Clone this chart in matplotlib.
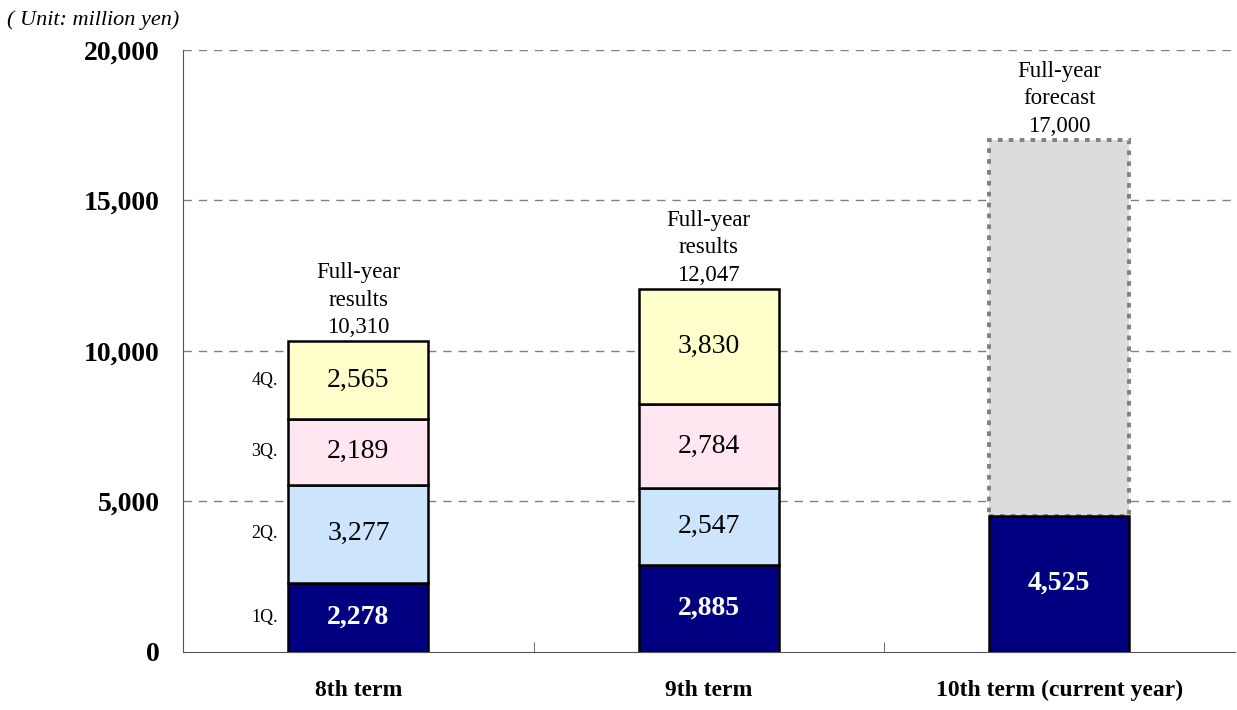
"""
Quarterly sales by term: stacked bars with full-year totals and 10th-term forecast.
"""
import matplotlib
matplotlib.use("Agg")
import matplotlib.pyplot as plt
import numpy as np

terms = ["8th term", "9th term", "10th term (current year)"]
quarters = ["1Q.", "2Q.", "3Q.", "4Q."]
# quarterly values (million yen); None where not yet reported
q1 = [2278, 2885, 4525]
q2 = [3277, 2547, None]
q3 = [2189, 2784, None]
q4 = [2565, 3830, None]
totals = [10310, 12047, 17000]
total_labels = ["Full-year\nresults", "Full-year\nresults", "Full-year\nforecast"]
yticks = [0, 5000, 10000, 15000, 20000]

colors = ["#000080", "#cce4fc", "#ffe6f0", "#ffffcc"]
text_colors = ["white", "black", "black", "black"]
forecast_color = "#dcdcdc"

plt.rcParams["font.family"] = ["Liberation Serif", "DejaVu Serif"]

fig = plt.figure(figsize=(12.37, 7.10), dpi=100)
ax = fig.add_axes([0.148, 0.082, 0.85, 0.848])

x = np.arange(len(terms))
width = 0.4
series = [q1, q2, q3, q4]

bottoms = np.zeros(len(terms))
for qi, vals in enumerate(series):
    for ti, v in enumerate(vals):
        if v is None:
            continue
        ax.bar(x[ti], v, width, bottom=bottoms[ti], color=colors[qi],
               edgecolor="black", linewidth=1.8, zorder=3)
        ax.text(x[ti], bottoms[ti] + v / 2, f"{v:,}", ha="center", va="center",
                fontsize=20, color=text_colors[qi],
                fontweight="bold" if qi == 0 else "normal", zorder=4)
        bottoms[ti] += v

# forecast remainder for the current term
cur = len(terms) - 1
ax.bar(x[cur], totals[cur] - bottoms[cur], width, bottom=bottoms[cur],
       color=forecast_color, edgecolor="#808080", linewidth=2.8,
       linestyle=(0, (1.2, 1.6)), zorder=2)

# quarter labels beside the first bar
b = 0
for qi, vals in enumerate(series):
    v = vals[0]
    ax.text(x[0] - width / 2 - 0.03, b + v / 2, quarters[qi], ha="right",
            va="center", fontsize=13)
    b += v

for ti in range(len(terms)):
    ax.annotate(f"{total_labels[ti]}\n{totals[ti]:,}", (x[ti], totals[ti]),
                xytext=(0, 2.5), textcoords="offset points", ha="center",
                va="bottom", fontsize=16.5, linespacing=1.4)

ax.set_xlim(-0.5, len(terms) - 0.5)
ax.set_ylim(0, 20000)
ax.set_yticks(yticks)
ax.set_yticklabels([f"{t:,}" for t in yticks], fontsize=20, fontweight="bold")
ax.tick_params(axis="y", length=0, pad=17)
ax.set_xticks(x)
ax.set_xticklabels(terms, fontsize=17, fontweight="bold")
ax.tick_params(axis="x", which="major", length=0, pad=20)
ax.set_xticks([0.5, 1.5], minor=True)
ax.tick_params(axis="x", which="minor", direction="in", length=7, color="#555555")

for yv in yticks[1:]:
    ax.axhline(yv, color="#808080", linestyle=(0, (6, 5)), linewidth=1, zorder=1)

ax.spines["top"].set_visible(False)
ax.spines["right"].set_visible(False)
ax.spines["left"].set_color("#555555")
ax.spines["bottom"].set_color("#555555")

fig.text(0.006, 0.972, "( Unit: million yen)", fontsize=16, style="italic",
         ha="left", va="center")

fig.savefig("out.png", dpi=100)
